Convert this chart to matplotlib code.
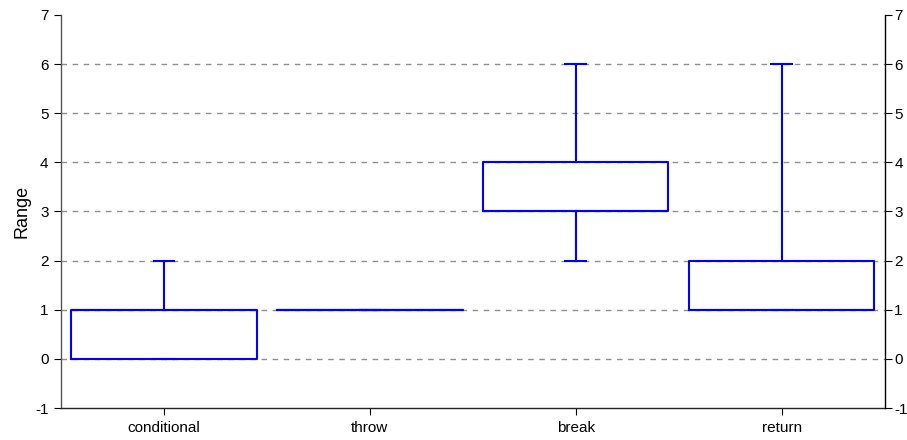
import matplotlib
matplotlib.use("Agg")
import matplotlib.pyplot as plt

plt.rcParams['font.family'] = ['Liberation Sans', 'DejaVu Sans']

categories = ["conditional", "throw", "break", "return"]
q1 = [0, 1, 3, 1]
q3 = [1, 1, 4, 2]
medians = [1, 1, 3, 1]
whisker_low = [0, 1, 2, 1]
whisker_high = [2, 1, 6, 6]
y_ticks = list(range(-1, 8))

stats = []
for name, a, b, m, lo, hi in zip(categories, q1, q3, medians, whisker_low, whisker_high):
    stats.append(dict(label=name, q1=a, q3=b, med=m, whislo=lo, whishi=hi, fliers=[]))

blue = "#0000FF"
fig = plt.figure(figsize=(9.07, 4.40), dpi=100)
ax = fig.add_axes([0.0673, 0.0727, 0.9080, 0.8933])

line_kw = dict(color=blue, linewidth=1.5)
ax.bxp(stats, positions=range(len(categories)), widths=0.9, showfliers=False,
       boxprops=line_kw, whiskerprops=line_kw, capprops=line_kw,
       medianprops=line_kw, capwidths=0.1, manage_ticks=False)

ax.set_xlim(-0.5, len(categories) - 0.5)
ax.set_ylim(-1, 7)
ax.set_xticks(range(len(categories)))
ax.set_xticklabels(categories)
ax.set_yticks(y_ticks)
ax.set_yticklabels([str(v) for v in y_ticks])

for y in range(0, 7):
    ax.axhline(y, color="#8f8f8f", linestyle=(0, (4, 4)), linewidth=1.0, zorder=0)

# right-hand value axis
ax2 = ax.twinx()
ax2.set_ylim(-1, 7)
ax2.set_yticks(y_ticks)
ax2.set_yticklabels([str(v) for v in y_ticks])
ax2.tick_params(axis='y', direction='out', length=5, labelsize=11, pad=2)

for a in (ax, ax2):
    a.spines['top'].set_visible(False)
    for s in a.spines.values():
        s.set_linewidth(1.0)
ax.spines['right'].set_visible(False)
ax2.spines['left'].set_visible(False)
ax2.spines['bottom'].set_visible(False)
ax.spines['left'].set_color("#555555")
ax.spines['bottom'].set_color("#222222")
ax2.spines['right'].set_color("#000000")

ax.tick_params(axis='y', direction='out', length=5, labelsize=11, pad=4)
ax.tick_params(axis='x', direction='out', length=5, labelsize=11, pad=4)
ax.set_ylabel("Range", fontsize=13, labelpad=3)

fig.savefig("out.png", dpi=100)
